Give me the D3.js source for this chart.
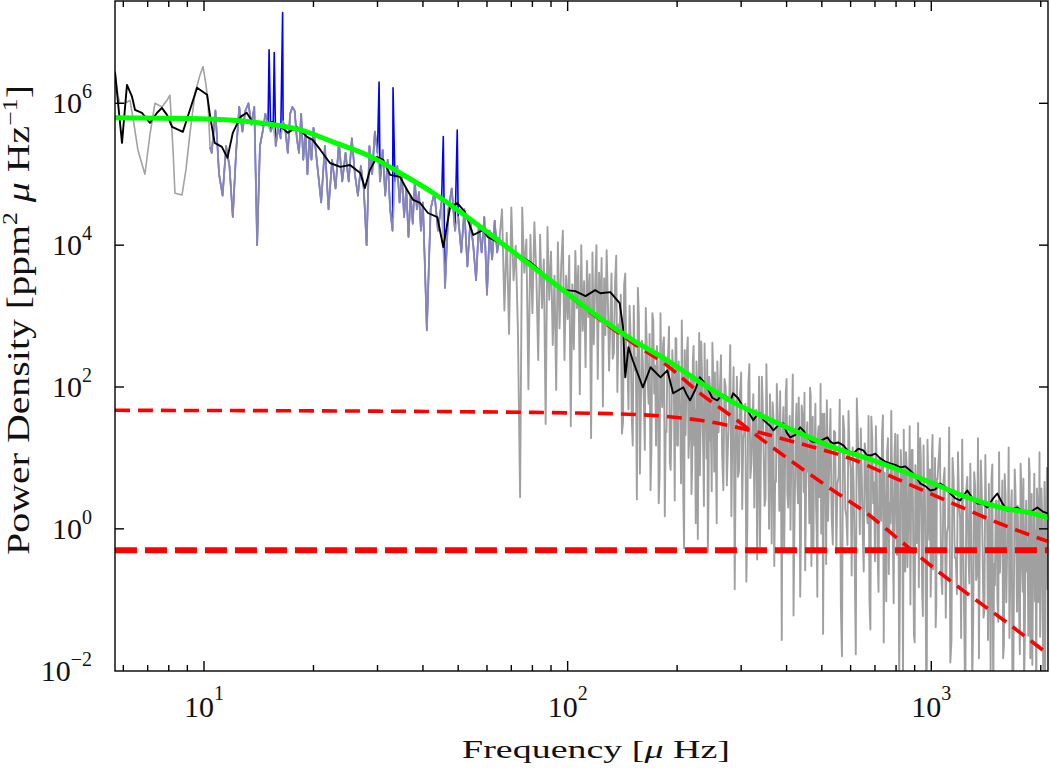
<!DOCTYPE html>
<html><head><meta charset="utf-8">
<script src="https://cdn.jsdelivr.net/npm/d3@7"></script>
<style>html,body{margin:0;padding:0;background:#fff;} svg{display:block;} text{font-family:"Liberation Serif","Times New Roman",serif;fill:#111;}</style>
</head><body><svg id="chart" width="1050" height="775"></svg>
<script>
// ---------------- DATA ----------------
// Raw power spectrum (grey), frequency in microHz, power in ppm^2/microHz
const grayFreq = [
 5.69,5.80,5.87,6.06,6.26,6.38,6.58,6.88,7.10,7.33,7.66,7.91,8.06,8.22,8.32,8.70,8.92,9.15,9.45,9.75,9.94,10.13,10.26,10.39,
 10.5,10.75,11,11.25,11.5,11.75,12,12.25,12.5,12.75,13,13.25,13.5,13.75,14,14.25,14.5,14.75,15,15.25,15.5,15.75,16,16.25,16.5,16.75,17,17.25,17.5,17.75,18,18.25,18.5,18.75,19,19.25,19.5,19.75,20,
 20.5,21,21.5,22,22.5,23,23.5,24,24.5,25,25.5,26,26.5,27,27.5,28,28.5,29,29.5,30,30.5,31,31.5,32,32.5,33,33.5,34,34.5,35,35.5,36,36.5,37,37.5,38,38.5,39,39.5,40,
 41,42,43,44,45,46,47,48,49,50,51,52,53,54,55,56,57,58,59,60,61,62,63,64,65,
 66,67,68,69,70,71,72,73,74,75,76,77,78,79,80,81,82,83,84,85,86,87,88,89,90,91,92,93,94,95,96,97,98,99,100,101,102,103,104,105,106,107,108,109,110,111,112,113,114,115,116,117,118,119,120,121,122,123,124,125,126,127,128,129,130,
 132,134,136,138,140,142,144,146,148,150,152,154,156,158,160,162,164,166,168,170,172,174,176,178,180,182,184,186,188,190,192,194,196,198,200,202,204,206,208,210,212,214,216,218,220,222,224,226,228,230,232,234,236,238,240,242,244,246,248,250,252,254,256,258,260,
 264,268,272,276,280,284,288,292,296,300,304,308,312,316,320,324,328,332,336,340,344,348,352,356,360,364,368,372,376,380,384,388,392,396,400,404,408,412,416,420,424,428,432,436,440,444,448,452,456,460,464,468,472,476,480,484,488,492,496,500,504,508,512,516,520,
 528,536,544,552,560,568,576,584,592,600,608,616,624,632,640,648,656,664,672,680,688,696,704,712,720,728,736,744,752,760,768,776,784,792,800,808,816,824,832,840,848,856,864,872,880,888,896,904,912,920,928,936,944,952,960,968,976,984,992,1000,1008,1016,1024,1032,1040,
 1056,1072,1088,1104,1120,1136,1152,1168,1184,1200,1216,1232,1248,1264,1280,1296,1312,1328,1344,1360,1376,1392,1408,1424,1440,1456,1472,1488,1504,1520,1536,1552,1568,1584,1600,1616,1632,1648,1664,1680,1696,1712,1728,1744,1760,1776,1792,1808,1824,1840,1856,1872,1888,1904,1920,1936,1952,1968,1984,2000,2016,2032,2048,2064,2080,2096
];
const grayPower = [
 2.8e6,1.3e6,1.0e6,1.0e6,1.1e6,6.2e5,2.2e5,1.0e5,3.6e5,1.0e6,8.9e5,1.1e6,1.3e6,2.2e5,5.4e4,5.1e4,1.15e5,3.8e5,1.4e6,2.5e6,3.3e6,1.8e6,1.0e6,2.4e5,
 2.0e5,7.9e5,1.0e5,5.0e4,2.5e5,1.3e5,2.5e4,2.0e5,8.9e5,4.0e5,7.9e5,1.0e6,5.0e5,8.9e5,1.0e4,2.5e5,4.0e5,7.1e5,5.0e5,4.0e5,5.0e5,2.5e5,4.5e5,3.2e5,5.6e5,4.0e5,2.0e5,7.1e5,8.9e5,7.9e5,3.2e5,2.0e5,7.1e5,1.6e5,4.0e5,1.0e5,3.2e5,1.6e5,4.5e5,
 1.3e5,4.0e4,2.5e5,3.2e4,1.6e5,6.3e4,2.8e5,7.9e4,2.0e5,7.9e4,3.2e5,1.0e5,5.0e4,1.3e5,6.3e4,1.0e4,2.5e5,1.0e5,4.0e5,2.0e5,7.9e4,2.2e5,5.0e4,1.6e5,3.2e4,1.6e4,7.9e4,1.3e5,4.0e4,1.0e5,2.5e4,6.3e4,1.3e4,5.0e4,2.0e4,7.9e4,3.2e4,5.6e4,1.6e4,4.0e4,
 630,3.2e4,5.6e4,1.6e4,4.0e4,2.5e3,3.2e4,6.3e4,1.6e4,2.5e4,7.9e3,3.2e4,5.0e3,2.2e4,1.0e4,3.2e3,2.0e4,7.9e3,2.5e4,2.0e3,1.6e4,6.3e3,2.2e4,7.9e3,1.3e4,
 3.2e4,1.2e3,1.5e4,5.6e2,3.4e4,3.2e3,9.8e3,5.9e2,2.8,3.4e4,4.1e3,1.2e4,93,1.4e4,1.1e3,2.1e4,4.0e3,2.4e2,1.4e4,1.3e3,6.3e3,30,1.8e4,1.7e3,8.1e3,3.9e2,3.7e3,91,1.1e4,6.7e2,5.1e3,1.6e4,2.4e2,3.7e3,9.1e2,7.1e3,28,2.8e3,3.4e2,8.3e3,1.3e3,5.1e3,79,1.0e4,6.2e2,3.1e3,1.9e2,6.0e3,9.7e2,3.9e3,19,7.9e3,4.0e2,2.6e3,1.0e4,1.3e2,4.1e3,8.3e2,6.6e3,53,3.4e3,5.4e2,8.5e3,1.7e3,1.7e2,
 4.0e3,3.0e2,7.1e3,7.6e2,2.0e3,32,4.0e3,2.1e2,1.4e3,40,1.4e3,2.6e2,2.5e3,6.0,4.5e2,66,1.3e3,1.2e2,5.6e2,14,8.3e2,2.0e2,3.8e2,2.3,1.1e3,52,5.0e2,24,2.3e2,7.1e2,6.8,3.3e2,79,4.9e2,15,2.3e2,45,8.7e2,2.7,3.3e2,81,5.0e2,20,1.5e2,7.6,3.8e2,47,2.3e2,0.72,5.8e2,28,1.7e2,11,4.1e2,50,2.4e2,3.0,1.1e2,17,4.2e2,51,1.6e2,6.0,2.3e2,23,
 2.8e2,3.5,1.0e2,16,3.9e2,38,0.14,1.4e2,6.6,1.6e2,19,58,1.1,2.1e2,8.1,79,31,0.37,1.4e2,11,55,2.1,2.1e2,16,79,0.62,38,4.7,1.1e2,18,87,0.027,52,6.6,1.3e2,2.0,39,9.5,1.5e2,0.74,29,4.6,71,0.11,55,13,83,2.1,32,6.3,98,0.30,38,9.3,58,0.91,22,2.8,1.1e2,13,0.033,42,4.1,65,1.3,
 49,0.60,23,4.4,66,0.016,25,1.5,46,7.1,14,0.28,69,4.3,26,0.81,16,1.9,39,0.038,19,4.5,28,0.43,10,1.3,40,6.2,0.095,19,2.3,46,0.71,11,1.7,21,0.0066,13,4.1,25,0.25,7.4,1.1,28,2.7,13,0.032,7.9,0.63,31,1.9,9.5,0.12,15,3.6,0.0072,18,1.1,6.9,0.28,21,2.1,10,0.081,5.0,
 19,0.12,7.2,0.87,27,0.026,5.0,0.39,12,1.4,18,0.045,3.5,0.54,8.3,0.0065,6.3,0.19,19,0.93,3.6,0.056,11,1.3,4.3,0.010,8.1,0.32,2.5,0.098,12,0.60,4.8,0.023,3.0,0.46,14,0.18,3.5,0.0055,6.9,0.85,2.1,0.066,8.3,0.32,5.1,0.032,2.5,0.63,9.8,0.015,3.1,0.19,6.0,0.95,3.7,0.093,12,0.37,1.8,0.0091,4.6,0.46,7.2,0.14
];
// Additional raw-spectrum samples in the dense high-frequency part (merged with the above)
const grayFreq2 = [
 133,135,137,139,141,143,145,147,149,151,153,155,157,159,161,163,165,167,169,171,173,175,177,179,181,183,185,187,189,191,193,195,197,199,201,203,205,207,209,211,213,215,217,219,221,223,225,227,229,231,233,235,237,239,241,243,245,247,249,251,253,255,257,259,
 266,270,274,278,282,286,290,294,298,302,306,310,314,318,322,326,330,334,338,342,346,350,354,358,362,366,370,374,378,382,386,390,394,398,402,406,410,414,418,422,426,430,434,438,442,446,450,454,458,462,466,470,474,478,482,486,490,494,498,502,506,510,514,518,
 532,540,548,556,564,572,580,588,596,604,612,620,628,636,644,652,660,668,676,684,692,700,708,716,724,732,740,748,756,764,772,780,788,796,804,812,820,828,836,844,852,860,868,876,884,892,900,908,916,924,932,940,948,956,964,972,980,988,996,1004,1012,1020,1028,1036,
 1064,1080,1096,1112,1128,1144,1160,1176,1192,1208,1224,1240,1256,1272,1288,1304,1320,1336,1352,1368,1384,1400,1416,1432,1448,1464,1480,1496,1512,1528,1544,1560,1576,1592,1608,1624,1640,1656,1672,1688,1704,1720,1736,1752,1768,1784,1800,1816,1832,1848,1864,1880,1896,1912,1928,1944,1960,1976,1992,2008,2024,2040,2056,2072,2088
];
const grayPower2 = [
 2.5e2,2.9e3,85,6.9e2,22,2.8e3,1.8e2,48,5.2e2,15,1.7e2,2.6,9.8e2,58,2.2e2,13,3.9e2,58,3.5,1.1e3,81,15,1.9e2,5.6,1.1e2,4.1e2,1.5,23,2.9e2,8.7,33,1.6e2,2.5,4.8e2,15,57,4.4,1.7e2,0.53,21,3.2e2,10,79,3.1,2.4e2,15,1.2,92,29,5.7,4.4e2,34,2.1,64,9.8,0.47,1.4e2,18,3.4,2.1e2,6.4,39,1.2,92,
 11,1.3e2,4.1,50,1.5,1.9e2,14,5.4,81,1.9,23,0.18,1.1e2,5.2,25,2.0,48,7.3,0.57,1.4e2,11,2.7,33,1.0,12,61,0.30,4.6,45,1.8,6.8,21,0.52,82,3.2,12,0.97,30,0.060,4.6,58,2.3,14,0.70,43,3.3,0.26,21,6.4,1.2,77,7.6,0.47,15,2.3,0.11,28,4.4,0.86,42,1.7,8.2,0.32,20,
 1.5,24,0.45,5.4,0.081,39,1.9,0.59,11,0.22,3.5,0.017,22,0.84,5.2,0.25,12,1.2,0.097,38,2.3,0.35,6.8,0.13,1.6,20,0.025,0.77,12,0.23,1.2,4.5,0.089,22,0.43,2.7,0.17,6.5,0.0064,0.79,12,0.29,2.8,0.086,13,0.52,0.025,4.0,0.99,0.15,19,1.5,0.059,2.9,0.36,0.011,7.1,0.70,0.11,11,0.27,1.7,0.041,5.1,
 0.24,4.7,0.056,1.1,0.013,10,0.39,0.12,2.3,0.029,0.72,0.0028,5.4,0.17,1.3,0.051,3.9,0.24,0.015,9.2,0.45,0.070,1.4,0.027,0.33,5.2,0.0040,0.16,2.5,0.049,0.24,0.95,0.015,5.9,0.092,0.58,0.029,1.8,0.0022,0.17,3.4,0.068,0.67,0.017,4.1,0.13,0.0051,1.0,0.25,0.031,6.2,0.39,0.012,0.76,0.095,0.0024,2.3,0.19,0.030,3.7,0.072,0.46,0.0091,1.8,0.14
];
// Blue spectrum: same raw spectrum in 10.4-65 microHz, plus the peaks that were removed
const bluePeakFreq  = [15.1, 15.6, 16.45, 30.3, 33.1, 45.5, 49.7];
const bluePeakPower = [5.7e6, 5.2e6, 1.9e7, 2.0e6, 1.66e6, 3.4e5, 4.2e5];
const blueRange = [10.35, 65];
// Smoothed spectrum (black)
const blackFreq = [5.69,5.95,6.14,6.34,6.46,6.75,7.10,7.43,7.66,7.91,8.17,8.75,9.15,9.57,10.2,10.4,10.7,11.2,11.6,12.0,12.6,13.1,13.6,14.5,15.4,16.4,17.0,18.0,19.2,19.9,20.9,22.2,23.7,25.2,26.9,27.7,28.6,29.9,31.1,32.5,34.6,36.2,37.6,39.3,41.3,43.8,45.5,47.5,49.7,52.2,55.0,58.5,60.4,65.2,69.5,74.0,78.9,86.7,92.4,98.4,105,112,119,123,131,139,142,144,147,151,161,169,180,188,195,
 208,212,217,224,231,236,242,250,258,266,275,280,285,294,304,314,324,331,338,346,354,361,368,380,392,400,409,422,436,446,456,470,486,502,518,528,538,555,573,591,610,630,650,665,680,702,724,747,771,796,822,848,875,904,933,963,994,1026,1058,1093,1128,1164,1201,1228,1256,1297,1338,1382,1426,1472,1519,1568,1618,1670,1724,1780,1837,1896,1957,2026,2098];
const blackPower = [2.79e6,2.77e5,1.82e6,1.24e6,8.1e5,7.35e5,5.30e5,7.35e5,8.63e5,6.88e5,4.66e5,3.96e5,8.1e5,1.66e6,1.32e6,6.44e5,2.77e5,2.43e5,1.70e5,3.83e5,6.44e5,7.35e5,5.48e5,4.97e5,5.48e5,4.51e5,3.83e5,4.66e5,3.36e5,3.05e5,2.20e5,1.44e5,1.27e5,1.35e5,1.04e5,6.40e4,1.15e5,1.75e5,1.59e5,9.77e4,9.16e4,6.00e4,4.34e4,3.93e4,2.84e4,2.49e4,9.40e3,3.45e4,3.93e4,2.93e4,1.39e4,1.63e4,1.30e4,1.07e4,8.53e3,7.01e3,5.77e3,3.78e3,2.92e3,2.32e3,2.25e3,1.91e3,2.32e3,2.10e3,2.18e3,1.52e3,697,137,364,238,99,190,137,172,81.5,
 99,80,64.9,90,137,120,99,70,64.9,78,71.6,62,81.5,70,51.7,45,33.9,40,42.5,34,30.7,28,24.5,29,30.7,23,19.5,21,27.0,24,19.5,17,16.6,18,19.5,17,16.0,16.5,15.0,12.5,11.6,13.5,12.8,11,10.8,11.5,9.84,8.9,8.36,8.0,7.34,7.6,6.66,5.6,4.36,4.0,3.47,3.6,4.36,3.9,3.15,2.7,2.51,3.0,3.47,2.7,2.28,2.3,2.0,2.6,3.15,2.3,1.81,1.9,2.0,1.8,1.64,1.8,2.0,1.75,1.64];
// Total background fit (green)
const fitFreq  = [5.69,9.75,14.9,18.4,22.6,29.2,34.6,42.7,52.9,65.2,89.5,122.9,151.4,187.8,231.4,285.3,353.9,436,537.6,666.7,821.6,1013,1256,1548,1909,2098];
const fitPower = [6.24e5,6.04e5,5.13e5,4.22e5,2.86e5,1.70e5,1.04e5,5.44e4,2.49e4,1.11e4,3.21e3,933,456,238,116,60.7,36.1,22.2,14.1,9.84,6.65,4.36,2.77,2.0,1.64,1.44];
// Fit components (red dashed)
const comp1Freq  = [5.69,9.75,14.9,18.4,22.6,29.2,34.6,42.7,52.9,65.2,89.5,122.9,151.4,187.8,231.4,285.3,353.9,436,537.6,666.7,821.6,1013,1256,1548,2098];
const comp1Power = [6.24e5,6.04e5,5.13e5,4.22e5,2.86e5,1.70e5,1.04e5,5.44e4,2.49e4,1.11e4,3.2e3,890,415,200,81.5,37.3,16.0,7.34,3.47,1.64,0.68,0.284,0.122,0.056,0.017];
const comp2Freq  = [5.69,34.6,130.9,231.4,317.7,436,598,821.6,1127,1548,2098];
const comp2Power = [46.9,45.4,42.1,33.9,24.5,15.9,9.84,4.81,2.37,1.18,0.66];
const noiseFreq  = [5.69,2098];
const noisePower = [0.5,0.5];
// Axis ticks
const xTickExp = [1,2,3];
const yTickExp = [-2,0,2,4,6];
// -------------------------------------------------------------------------

if (grayFreq.length !== grayPower.length) console.warn('gray', grayFreq.length, grayPower.length);
if (grayFreq2.length !== grayPower2.length) console.warn('gray2', grayFreq2.length, grayPower2.length);
if (blackFreq.length !== blackPower.length) console.warn('black', blackFreq.length, blackPower.length);

const svg = d3.select('#chart');
const L = 115, R = 1048, T = 1, B = 671;
const x = d3.scaleLog().domain([10, 1000]).range([204, 931.3]);
const y = d3.scaleLog().domain([1e-2, 1e6]).range([670.7, 103.3]);

svg.append('defs').append('clipPath').attr('id','clip')
  .append('rect').attr('x',L).attr('y',T).attr('width',R-L).attr('height',B-T);

const zip = (a,b) => a.map((v,i)=>[v,b[i]]);
const gray = zip(grayFreq, grayPower).concat(zip(grayFreq2, grayPower2)).sort((a,b)=>a[0]-b[0]);
const blue = gray.filter(d => d[0] >= blueRange[0] && d[0] <= blueRange[1])
  .concat(zip(bluePeakFreq, bluePeakPower)).sort((a,b)=>a[0]-b[0]);

const line = d3.line().x(d=>x(d[0])).y(d=>y(d[1]));
const smooth = d3.line().x(d=>x(d[0])).y(d=>y(d[1])).curve(d3.curveMonotoneX);

const g = svg.append('g').attr('clip-path','url(#clip)');
g.append('path').attr('d', line(blue)).attr('fill','none').attr('stroke','#0000ff').attr('stroke-width',1.6).attr('stroke-linejoin','round');
const grayParts = [
  {lo: 0,     hi: 10.39, w: 1.6, c: '#a2a2a2', o: 1},
  {lo: 10.39, hi: 65,    w: 1.9, c: '#a4a4a4', o: 0.8},
  {lo: 65,    hi: 1e5,   w: 1.9, c: '#a0a0a0', o: 1}
];
grayParts.forEach(p => {
  g.append('path').attr('d', line(gray.filter(d => d[0] >= p.lo && d[0] <= p.hi)))
    .attr('fill','none').attr('stroke',p.c).attr('stroke-opacity',p.o)
    .attr('stroke-width',p.w).attr('stroke-linejoin','round');
});
g.append('path').attr('d', line(zip(blackFreq, blackPower))).attr('fill','none').attr('stroke','#000').attr('stroke-width',1.9).attr('stroke-linejoin','round');
g.append('path').attr('d', smooth(zip(comp1Freq, comp1Power))).attr('fill','none').attr('stroke','#ff0000').attr('stroke-width',3.6).attr('stroke-dasharray','15,8');
g.append('path').attr('d', smooth(zip(comp2Freq, comp2Power))).attr('fill','none').attr('stroke','#ff0000').attr('stroke-width',3.6).attr('stroke-dasharray','15,8');
g.append('path').attr('d', line(zip(noiseFreq, noisePower))).attr('fill','none').attr('stroke','#ff0000').attr('stroke-width',6).attr('stroke-dasharray','22,8');
g.append('path').attr('d', smooth(zip(fitFreq, fitPower))).attr('fill','none').attr('stroke','#00ff00').attr('stroke-width',5).attr('stroke-linecap','round');

// frame + ticks
const ax = svg.append('g').attr('stroke','#000').attr('stroke-width',1.4);
ax.append('rect').attr('x',L).attr('y',T).attr('width',R-L).attr('height',B-T).attr('fill','none');
const xTicksAll = d3.scaleLog().domain([x.invert(L), x.invert(R)]).ticks();
xTicksAll.forEach(v => {
  const major = Math.abs(Math.log10(v) - Math.round(Math.log10(v))) < 1e-9;
  const len = major ? 10 : 6;
  const px = x(v);
  if (px <= L+1 || px >= R-1) return;
  ax.append('line').attr('x1',px).attr('x2',px).attr('y1',B).attr('y2',B-len);
  ax.append('line').attr('x1',px).attr('x2',px).attr('y1',T).attr('y2',T+len);
});
yTickExp.forEach(e => {
  const py = y(Math.pow(10,e));
  if (py < B-1) {
    ax.append('line').attr('x1',L).attr('x2',L+9).attr('y1',py).attr('y2',py);
    ax.append('line').attr('x1',R).attr('x2',R-9).attr('y1',py).attr('y2',py);
  }
});

const supText = e => e < 0 ? '\u2212' + (-e) : String(e);
xTickExp.forEach(e => {
  const t = svg.append('text').attr('x', x(Math.pow(10,e))).attr('y', 717).attr('text-anchor','middle').style('font-size','30px');
  t.append('tspan').text('10');
  t.append('tspan').attr('dy', -17).style('font-size','20px').text(supText(e));
});
yTickExp.forEach(e => {
  const t = svg.append('text').attr('x', 92).attr('y', y(Math.pow(10,e)) + 10).attr('text-anchor','end').style('font-size','30px');
  t.append('tspan').text('10');
  t.append('tspan').attr('dy', -15).style('font-size','20px').text(supText(e));
});

// axis titles
const xt2 = svg.append('text').attr('text-anchor','middle').style('font-size','25px');
xt2.append('tspan').text('Frequency [');
xt2.append('tspan').style('font-style','italic').text('\u03bc');
xt2.append('tspan').text(' Hz]');
const xw = xt2.node().getComputedTextLength();
xt2.attr('transform', `translate(596,758) scale(${268/xw},1)`);

const yt = svg.append('text').attr('text-anchor','middle').style('font-size','31px');
yt.append('tspan').text('Power Density [ppm');
yt.append('tspan').attr('dy',-12).style('font-size','20px').text('2');
yt.append('tspan').attr('dy',12).text(' ');
yt.append('tspan').style('font-style','italic').text('\u03bc');
yt.append('tspan').text(' Hz');
yt.append('tspan').attr('dy',-12).style('font-size','20px').text('\u22121');
yt.append('tspan').attr('dy',12).text(']');
const yw = yt.node().getComputedTextLength();
yt.attr('transform', `translate(29,320) rotate(-90) scale(${470/yw},1)`);
</script></body></html>
